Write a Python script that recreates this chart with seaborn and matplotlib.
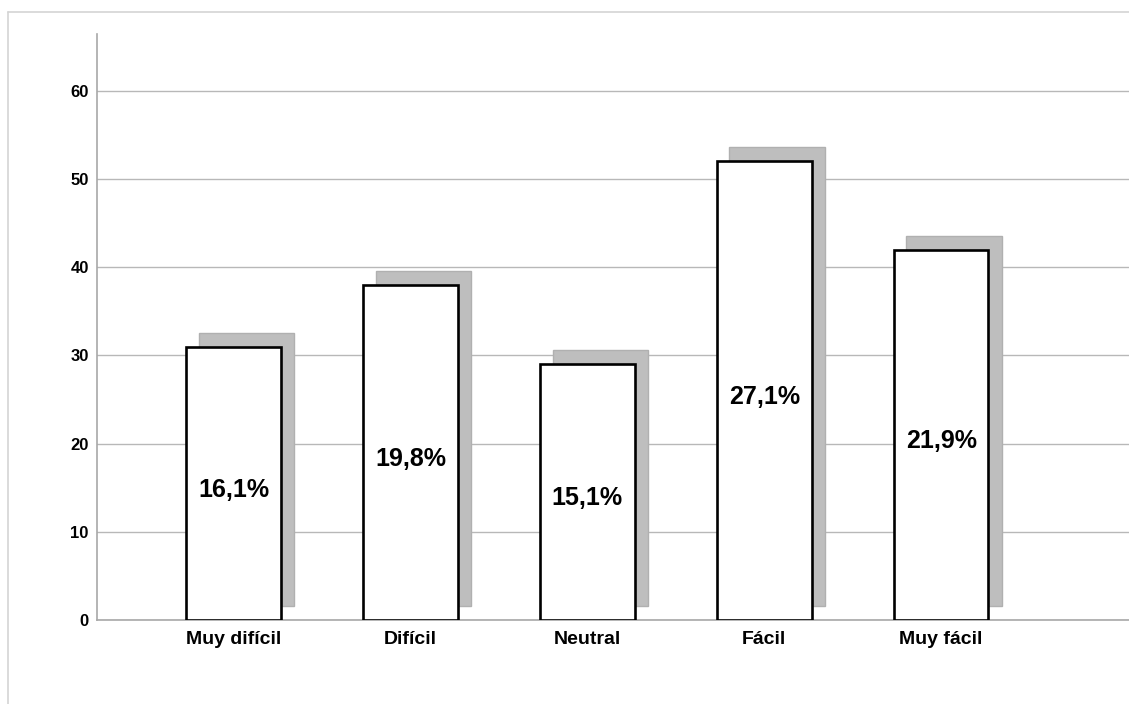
import matplotlib
matplotlib.use("Agg")
import matplotlib.pyplot as plt
import matplotlib.transforms as mtransforms
from matplotlib.lines import Line2D
import seaborn as sns
import pandas as pd

categories = ["Muy difícil", "Difícil", "Neutral", "Fácil", "Muy fácil"]
counts = [31, 38, 29, 52, 42]
percent_labels = ["16,1%", "19,8%", "15,1%", "27,1%", "21,9%"]
y_ticks = [0, 10, 20, 30, 40, 50, 60]

df = pd.DataFrame({"categoria": categories, "frecuencia": counts})

sns.set_theme(style="white")
plt.rcParams["font.family"] = ["Liberation Sans", "DejaVu Sans"]

W, H = 1129, 704
fig = plt.figure(figsize=(W / 100, H / 100), dpi=100)
fig.patch.set_facecolor("white")

# light frame around the chart area
frame_col = "#d4d4d4"
fig.add_artist(Line2D([8 / W, 1.0], [1 - 12 / H, 1 - 12 / H], transform=fig.transFigure,
                      color=frame_col, lw=1.2))
fig.add_artist(Line2D([8 / W, 8 / W], [0.0, 1 - 12 / H], transform=fig.transFigure,
                      color=frame_col, lw=1.2))

ax = fig.add_axes([97 / W, 84 / H, 1 - 97 / W, (620 - 33.5) / H])
ax.set_facecolor("white")

# drop shadows: same bars, shifted right and up
sns.barplot(data=df, x="categoria", y="frecuencia", order=categories, ax=ax,
            color="#bebebe", saturation=1, width=0.54, edgecolor="#b0b0b0",
            linewidth=1.0, errorbar=None, zorder=2)
n_shadow = len(ax.patches)
shift = mtransforms.ScaledTranslation(13 / 100, 14 / 100, fig.dpi_scale_trans)
for p in ax.patches[:n_shadow]:
    p.set_transform(ax.transData + shift)

# main bars
sns.barplot(data=df, x="categoria", y="frecuencia", order=categories, ax=ax,
            color="white", saturation=1, width=0.535, edgecolor="black",
            linewidth=1.9, errorbar=None, zorder=3)

# percentage labels in the middle of each bar
for i, (v, lab) in enumerate(zip(counts, percent_labels)):
    ax.annotate(lab, xy=(i, v / 2), xytext=(0, -4.5), textcoords="offset points",
                ha="center", va="center", fontsize=18, fontweight="bold",
                color="black", zorder=4)

ax.set_xlim(-0.772, 5.062)
ax.set_ylim(0, 66.5)
ax.set_yticks(y_ticks)
ax.set_yticklabels([str(t) for t in y_ticks], fontsize=12, fontweight="bold")
ax.yaxis.grid(True, color="#b8b8b8", lw=1.0, zorder=0)
ax.set_axisbelow(True)

# category labels without ticks, boundary ticks between categories
ax.set_xticks(range(len(categories)))
ax.set_xticklabels(categories, fontsize=14, fontweight="bold")
ax.tick_params(axis="x", length=0, pad=8, colors="black")
ax.set_xticks([i - 0.5 for i in range(len(categories) + 1)], minor=True)
ax.tick_params(axis="x", which="minor", length=5, width=1, color="#b0b0b0", direction="out")
ax.tick_params(axis="y", length=0, pad=6, colors="black")

ax.set_xlabel("")
ax.set_ylabel("")
for side in ["top", "right"]:
    ax.spines[side].set_visible(False)
for side in ["left", "bottom"]:
    ax.spines[side].set_color("#a8a8a8")
    ax.spines[side].set_linewidth(1.2)

fig.savefig("out.png", dpi=100, facecolor="white")
